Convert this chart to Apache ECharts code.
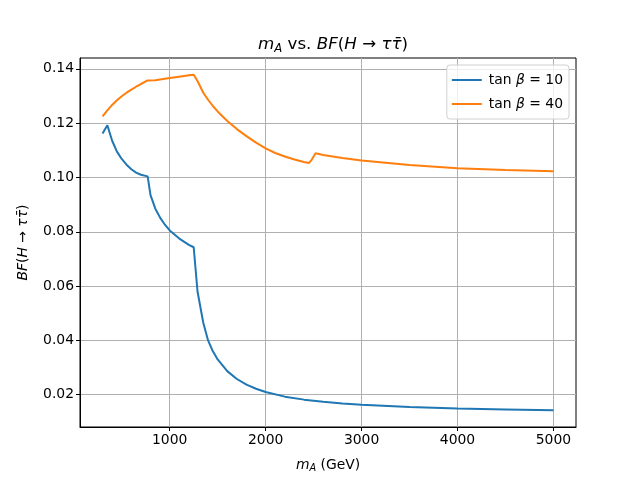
<!DOCTYPE html>
<html>
<head>
<meta charset="utf-8">
<script src="https://cdn.jsdelivr.net/npm/echarts@6/dist/echarts.min.js"></script>
<style>
  html, body { margin: 0; padding: 0; background: #fff; }
  #chart { width: 640px; height: 480px; }
</style>
</head>
<body>
<div id="chart"></div>
<script>
  // ===== Data =====
  const massTan10 = [300, 350, 400, 450, 500, 550, 600, 650, 700, 770, 800, 850, 900, 950, 1000, 1100, 1200, 1250,
                     1290, 1350, 1400, 1450, 1500, 1600, 1700, 1800, 1900, 2000, 2200, 2400, 2600, 2800, 3000, 3500, 4000, 4500, 5000];
  const bfTan10   = [0.1162, 0.1192, 0.1135, 0.1095, 0.1068, 0.1047, 0.1030, 0.1018, 0.1010, 0.1004, 0.0935, 0.0885, 0.0852, 0.0826, 0.0805, 0.0775, 0.0752, 0.0743,
                     0.0580, 0.0465, 0.0400, 0.0360, 0.0330, 0.0287, 0.0258, 0.0237, 0.0222, 0.0210, 0.0193, 0.0182, 0.0174, 0.0168, 0.0163, 0.0155, 0.0149, 0.0146, 0.0143];

  const massTan40 = [300, 350, 400, 450, 500, 550, 600, 650, 700, 770, 850, 900, 1000, 1100, 1200, 1250,
                     1290, 1350, 1400, 1450, 1500, 1600, 1700, 1800, 1900, 2000, 2100, 2200, 2300, 2400, 2450, 2480, 2520,
                     2600, 2800, 3000, 3500, 4000, 4500, 5000];
  const bfTan40   = [0.1225, 0.1247, 0.1267, 0.1284, 0.1299, 0.1312, 0.1323, 0.1334, 0.1344, 0.1357, 0.1358, 0.1361, 0.1366, 0.1371, 0.1376, 0.1378,
                     0.1355, 0.1312, 0.1286, 0.1263, 0.1243, 0.1208, 0.1178, 0.1152, 0.1128, 0.1107, 0.1090, 0.1077, 0.1066, 0.1057, 0.1053, 0.1065, 0.1089,
                     0.1083, 0.1072, 0.1062, 0.1046, 0.1034, 0.1027, 0.1023];

  const xTicks = [1000, 2000, 3000, 4000, 5000];
  const yTicks = [0.02, 0.04, 0.06, 0.08, 0.10, 0.12, 0.14];

  const FONT = '"DejaVu Sans", sans-serif';
  const BLUE = '#1f77b4';
  const ORANGE = '#ff7f0e';
  const GRID = '#b0b0b0';

  // matplotlib-like autoscale: 5% margins around data
  function padded(arrs) {
    const all = [].concat(...arrs);
    const lo = Math.min(...all), hi = Math.max(...all);
    const m = (hi - lo) * 0.05;
    return [lo - m, hi + m];
  }
  const [xMin, xMax] = padded([massTan10, massTan40]);
  const [yMin, yMax] = padded([bfTan10, bfTan40]);

  const pairs = (xs, ys) => xs.map((x, i) => [x, ys[i]]);

  function richSet(size) {
    const base = { fontFamily: FONT, fontSize: size, fontWeight: 'normal', color: '#000' };
    return {
      n: { ...base },
      i: { ...base, fontStyle: 'italic' },
      s: { ...base, fontSize: size * 0.7, fontStyle: 'italic', verticalAlign: 'bottom', padding: [size * 0.48, 0, 0, 0] },
    };
  }
  const rich = richSet(13.9);
  const richTitle = richSet(16.7);

  function axisCommon(ticks, fmt) {
    return {
      axisLine: { show: true, onZero: false, lineStyle: { color: '#000', width: 1 } },
      axisTick: { show: true, inside: false, length: 4, customValues: ticks, lineStyle: { color: '#000', width: 1 } },
      axisLabel: { customValues: ticks, color: '#000', fontFamily: FONT, fontSize: 13.9, margin: 6, formatter: fmt },
      splitLine: { show: true, lineStyle: { color: GRID, width: 1 } },
    };
  }

  const chart = echarts.init(document.getElementById('chart'), null, { renderer: 'canvas' });
  chart.setOption({
    animation: false,
    backgroundColor: '#fff',
    title: {
      text: '{i|m}{s|A}{n| vs. }{i|BF}{n|(}{i|H}{n| → }{i|ττ̄}{n|)}',
      left: 328, top: 30, textAlign: 'center',
      textStyle: { fontWeight: 'normal', rich: richTitle },
    },
    grid: {
      left: 80, right: 64, top: 58, bottom: 53,
      show: true, borderColor: '#000', borderWidth: 1, backgroundColor: 'transparent',
    },
    legend: {
      data: ['tan β = 10', 'tan β = 40'],
      orient: 'vertical',
      right: 71, top: 65,
      icon: 'rect', itemWidth: 30, itemHeight: 2, itemGap: 10,
      padding: [8, 6, 8, 5],
      backgroundColor: 'rgba(255,255,255,0.8)',
      borderColor: '#d0d0d0', borderWidth: 1, borderRadius: 3,
      formatter: name => '{n|tan }{i|β}{n| = ' + name.split('= ')[1] + '}',
      textStyle: { rich: rich, padding: [0, 0, 0, 2] },
    },
    xAxis: {
      type: 'value', min: xMin, max: xMax,
      name: '{i|m}{s|A}{n| (GeV)}', nameLocation: 'middle', nameGap: 30,
      nameTextStyle: { rich: rich },
      ...axisCommon(xTicks, v => String(Math.round(v))),
    },
    yAxis: {
      type: 'value', min: yMin, max: yMax,
      name: '{i|BF}{n|(}{i|H}{n| → }{i|ττ̄}{n|)}', nameLocation: 'middle', nameGap: 50,
      nameTextStyle: { rich: rich },
      ...axisCommon(yTicks, v => v.toFixed(2)),
    },
    series: [
      {
        name: 'tan β = 10', type: 'line', data: pairs(massTan10, bfTan10),
        showSymbol: false, symbol: 'none', smooth: false,
        lineStyle: { color: BLUE, width: 2 }, itemStyle: { color: BLUE },
      },
      {
        name: 'tan β = 40', type: 'line', data: pairs(massTan40, bfTan40),
        showSymbol: false, symbol: 'none', smooth: false,
        lineStyle: { color: ORANGE, width: 2 }, itemStyle: { color: ORANGE },
      },
    ],
  });
</script>
</body>
</html>
